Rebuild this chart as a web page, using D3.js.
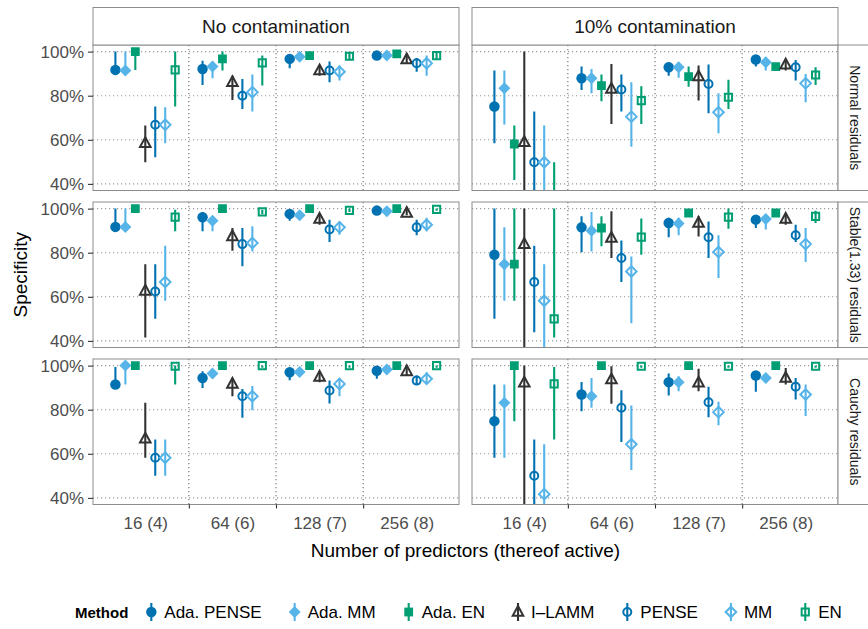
<!DOCTYPE html>
<html>
<head>
<meta charset="utf-8">
<script src="https://cdn.jsdelivr.net/npm/d3@7"></script>
<style>
  body { margin: 0; background: #fff; }
  text { font-family: "Liberation Sans", Arial, sans-serif; }
</style>
</head>
<body>
<svg id="chart" width="868" height="629"></svg>
<script>
const methods = ['Ada. PENSE', 'Ada. MM', 'Ada. EN', 'I\u2013LAMM', 'PENSE', 'MM', 'EN']
const methodColors = ['#0072B2', '#56B4E9', '#009E73', '#333333', '#0072B2', '#56B4E9', '#009E73']
const methodShapes = ['circleFilled', 'diamondFilled', 'squareFilled', 'triangleOpen', 'circleOpen', 'diamondOpen', 'squareOpen']
const predictors = ['16 (4)', '64 (6)', '128 (7)', '256 (8)']
const contaminations = ['No contamination', '10% contamination']
const residuals = ['Normal residuals', 'Stable(1.33) residuals', 'Cauchy residuals']
const yTicks = [0.4, 0.6, 0.8, 1]

// [estimate, lower, upper] per method, one row per predictor setting
const normalClean = [
  [[0.917, 0.91, 1], [0.914, 0.91, 1], [1, 0.917, 1], [0.584, 0.498, 0.665], [0.668, 0.521, 0.751], [0.668, 0.584, 0.748], [0.917, 0.751, 1]],
  [[0.921, 0.849, 0.959], [0.932, 0.879, 0.956], [0.967, 0.914, 1], [0.861, 0.781, 0.891], [0.80, 0.74, 0.876], [0.816, 0.728, 0.896], [0.949, 0.846, 0.982]],
  [[0.967, 0.924, 0.98], [0.977, 0.96, 0.992], [0.982, 0.967, 1], [0.914, 0.891, 0.937], [0.914, 0.861, 0.955], [0.909, 0.869, 0.937], [0.979, 0.962, 0.995]],
  [[0.982, 0.967, 0.995], [0.982, 0.97, 0.99], [0.99, 0.985, 0.995], [0.964, 0.947, 0.99], [0.947, 0.909, 0.971], [0.947, 0.891, 0.982], [0.982, 0.962, 0.995]]
]
const normalDirty = [
  [[0.751, 0.584, 0.914], [0.834, 0.669, 0.914], [0.581, 0.418, 0.665], [0.589, 0.2, 1], [0.498, 0.2, 0.728], [0.498, 0.2, 0.665], [0.3, 0.15, 0.498]],
  [[0.879, 0.826, 0.932], [0.879, 0.811, 0.921], [0.846, 0.775, 0.896], [0.831, 0.672, 0.944], [0.828, 0.728, 0.896], [0.705, 0.569, 0.861], [0.778, 0.672, 0.843]],
  [[0.929, 0.891, 0.952], [0.929, 0.881, 0.952], [0.887, 0.841, 0.932], [0.887, 0.778, 0.937], [0.853, 0.72, 0.941], [0.725, 0.63, 0.811], [0.793, 0.74, 0.872]],
  [[0.964, 0.932, 0.982], [0.952, 0.914, 0.975], [0.932, 0.92, 0.945], [0.941, 0.914, 0.967], [0.929, 0.869, 0.962], [0.856, 0.77, 0.899], [0.894, 0.849, 0.929]]
]
const stableClean = [
  [[0.917, 0.91, 1], [0.917, 0.91, 1], [1, 0.99, 1], [0.627, 0.415, 0.748], [0.624, 0.5, 0.748], [0.667, 0.582, 0.832], [0.961, 0.897, 0.995]],
  [[0.961, 0.897, 0.985], [0.945, 0.897, 0.965], [1, 0.99, 1], [0.874, 0.809, 0.912], [0.839, 0.738, 0.912], [0.844, 0.806, 0.92], [0.985, 0.975, 0.995]],
  [[0.976, 0.945, 0.995], [0.97, 0.955, 0.985], [1, 0.99, 1], [0.953, 0.927, 0.976], [0.905, 0.848, 0.95], [0.915, 0.882, 0.942], [0.992, 0.985, 1]],
  [[0.991, 0.98, 1], [0.988, 0.975, 0.995], [1, 0.99, 1], [0.98, 0.97, 1], [0.915, 0.879, 0.95], [0.927, 0.897, 0.958], [0.997, 0.99, 1]]
]
const stableDirty = [
  [[0.791, 0.5, 1], [0.748, 0.582, 0.915], [0.748, 0.582, 1], [0.839, 0.2, 1], [0.667, 0.439, 0.832], [0.582, 0.2, 0.748], [0.5, 0.415, 1]],
  [[0.915, 0.802, 0.965], [0.9, 0.806, 0.985], [0.912, 0.829, 0.965], [0.867, 0.776, 0.988], [0.776, 0.667, 0.855], [0.715, 0.48, 0.783], [0.871, 0.791, 0.955]],
  [[0.935, 0.87, 0.958], [0.932, 0.879, 0.958], [0.98, 0.97, 0.99], [0.935, 0.874, 0.965], [0.87, 0.776, 0.942], [0.803, 0.685, 0.879], [0.961, 0.909, 1]],
  [[0.95, 0.912, 0.97], [0.953, 0.905, 0.976], [0.98, 0.97, 0.99], [0.953, 0.927, 0.976], [0.879, 0.848, 0.927], [0.839, 0.758, 0.912], [0.965, 0.935, 0.99]]
]
const cauchyClean = [
  [[0.914, 0.9, 0.994], [1, 0.914, 1], [1, 0.99, 1], [0.668, 0.582, 0.831], [0.582, 0.5, 0.665], [0.582, 0.5, 0.665], [0.997, 0.914, 1]],
  [[0.944, 0.899, 0.974], [0.964, 0.95, 0.98], [1, 0.99, 1], [0.917, 0.861, 0.944], [0.861, 0.763, 0.894], [0.861, 0.798, 0.907], [1, 0.99, 1]],
  [[0.97, 0.934, 0.99], [0.971, 0.96, 0.985], [1, 0.99, 1], [0.949, 0.925, 0.974], [0.887, 0.828, 0.932], [0.917, 0.861, 0.944], [1, 0.99, 1]],
  [[0.977, 0.94, 0.994], [0.982, 0.97, 0.99], [1, 0.99, 1], [0.974, 0.955, 0.997], [0.932, 0.914, 0.955], [0.94, 0.919, 0.97], [1, 0.99, 1]]
]
const cauchyDirty = [
  [[0.748, 0.582, 0.914], [0.831, 0.582, 0.914], [1, 0.748, 1], [0.922, 0.2, 1], [0.5, 0.2, 0.665], [0.417, 0.2, 0.643], [0.917, 0.665, 0.994]],
  [[0.869, 0.793, 0.926], [0.861, 0.809, 0.944], [1, 0.99, 1], [0.937, 0.827, 0.997], [0.809, 0.653, 0.888], [0.643, 0.527, 0.819], [0.997, 0.99, 1]],
  [[0.925, 0.864, 0.964], [0.925, 0.884, 0.952], [1, 0.99, 1], [0.922, 0.884, 0.986], [0.834, 0.766, 0.904], [0.789, 0.729, 0.836], [0.997, 0.99, 1]],
  [[0.955, 0.881, 0.974], [0.944, 0.925, 0.96], [1, 0.99, 1], [0.944, 0.914, 0.989], [0.904, 0.846, 0.944], [0.869, 0.771, 0.914], [0.997, 0.99, 1]]
]

const panelData = [
  [normalClean, normalDirty],
  [stableClean, stableDirty],
  [cauchyClean, cauchyDirty]
]

const svg = d3.select('#chart')
const panelW = 366
const panelH = 145.5
const colLeft = [93, 472]
const rowTop = [45, 202, 359]
const dodge = 0.8

const gridColor = '#9a9a9a'
const borderColor = '#8c8c8c'

// point shapes, roughly like ggplot's 16/18/15/2/1/5/0
const shapePath = (shape) => {
  switch (shape) {
    case 'circleFilled': return d3.symbol(d3.symbolCircle, 86)()
    case 'diamondFilled': return 'M0,-6L6,0L0,6L-6,0Z'
    case 'squareFilled': return 'M-4.4,-4.4h8.8v8.8h-8.8Z'
    case 'triangleOpen': return 'M0,-6L5.3,3.8L-5.3,3.8Z'
    case 'circleOpen': return d3.symbol(d3.symbolCircle, 50)()
    case 'diamondOpen': return 'M0,-5.3L5.3,0L0,5.3L-5.3,0Z'
    case 'squareOpen': return 'M-3.6,-3.6h7.2v7.2h-7.2Z'
  }
}
const isOpen = shape => shape.endsWith('Open')

const drawPoint = (g, m) => {
  const shape = methodShapes[m]
  g.append('path')
    .attr('d', shapePath(shape))
    .attr('fill', isOpen(shape) ? 'none' : methodColors[m])
    .attr('stroke', isOpen(shape) ? methodColors[m] : 'none')
    .attr('stroke-width', 2)
}

panelData.forEach((row, r) => {
  row.forEach((cells, c) => {
    const left = colLeft[c]
    const top = rowTop[r]
    const x = d3.scaleLinear().domain([0.4, 4.6]).range([left, left + panelW])
    const y = d3.scaleLinear().domain([0.37, 1.03]).range([top + panelH, top])

    const clipId = `clip-${r}-${c}`
    svg.append('clipPath').attr('id', clipId)
      .append('rect')
      .attr('x', left).attr('y', top)
      .attr('width', panelW).attr('height', panelH)

    const panel = svg.append('g')

    // dotted grid
    panel.selectAll('.hgrid').data(yTicks).enter()
      .append('line')
      .attr('x1', left).attr('x2', left + panelW)
      .attr('y1', d => y(d)).attr('y2', d => y(d))
      .attr('stroke', gridColor)
      .attr('stroke-width', 1.1)
      .attr('stroke-dasharray', '1.2,2.8')
    panel.selectAll('.vsep').data([1.5, 2.5, 3.5]).enter()
      .append('line')
      .attr('x1', d => x(d)).attr('x2', d => x(d))
      .attr('y1', top).attr('y2', top + panelH)
      .attr('stroke', '#6e6e6e')
      .attr('stroke-width', 1.1)
      .attr('stroke-dasharray', '1.2,2.8')

    // point ranges
    const marks = panel.append('g').attr('clip-path', `url(#${clipId})`)
    cells.forEach((group, i) => {
      group.forEach((v, m) => {
        const cx = x(i + 1 + (m - 3) * dodge / methods.length)
        marks.append('line')
          .attr('x1', cx).attr('x2', cx)
          .attr('y1', y(v[1])).attr('y2', y(v[2]))
          .attr('stroke', methodColors[m])
          .attr('stroke-width', 2.1)
        const pg = marks.append('g').attr('transform', `translate(${cx},${y(v[0])})`)
        drawPoint(pg, m)
      })
    })

    panel.append('rect')
      .attr('x', left).attr('y', top)
      .attr('width', panelW).attr('height', panelH)
      .attr('fill', 'none')
      .attr('stroke', borderColor)
      .attr('stroke-width', 1)

    // axes
    if (c === 0) {
      const ay = svg.append('g')
        .attr('transform', `translate(${left},0)`)
        .call(d3.axisLeft(y).tickValues(yTicks).tickFormat(d3.format('.0%')).tickSize(5).tickPadding(4))
      ay.select('.domain').remove()
      ay.selectAll('line').attr('stroke', '#333').attr('stroke-width', 1.1)
      ay.selectAll('text').attr('fill', '#4d4d4d').style('font-size', '17px')
        .style('font-family', '"Liberation Sans", Arial, sans-serif')
    }
    if (r === panelData.length - 1) {
      const ax = svg.append('g')
        .attr('transform', `translate(0,${top + panelH})`)
        .call(d3.axisBottom(x).tickValues([1.5, 2.5, 3.5]).tickFormat('').tickSize(4))
      ax.select('.domain').remove()
      ax.selectAll('line').attr('stroke', '#333').attr('stroke-width', 1.1)
      const axl = svg.append('g')
        .attr('transform', `translate(0,${top + panelH})`)
        .call(d3.axisBottom(x).tickValues([1, 2, 3, 4]).tickFormat((d, i) => predictors[i]).tickSize(0).tickPadding(12))
      axl.select('.domain').remove()
      axl.selectAll('text').attr('fill', '#4d4d4d').style('font-size', '17px')
        .style('font-family', '"Liberation Sans", Arial, sans-serif')
    }
  })
})

// top strips
contaminations.forEach((label, c) => {
  svg.append('rect')
    .attr('x', colLeft[c]).attr('y', 7.5)
    .attr('width', panelW).attr('height', rowTop[0] - 7.5)
    .attr('fill', '#fff').attr('stroke', borderColor)
  svg.append('text')
    .attr('x', colLeft[c] + panelW / 2).attr('y', 33)
    .attr('text-anchor', 'middle')
    .attr('fill', '#1a1a1a')
    .style('font-size', '19px')
    .text(label)
})

// right strips
residuals.forEach((label, r) => {
  const sx = colLeft[1] + panelW
  svg.append('rect')
    .attr('x', sx).attr('y', rowTop[r])
    .attr('width', 40).attr('height', panelH)
    .attr('fill', '#fff').attr('stroke', borderColor)
  svg.append('text')
    .attr('transform', `translate(${sx + 12},${rowTop[r] + panelH / 2}) rotate(90)`)
    .attr('text-anchor', 'middle')
    .attr('fill', '#1a1a1a')
    .style('font-size', '14px')
    .text(label)
})

// axis titles
svg.append('text')
  .attr('x', (colLeft[0] + colLeft[1] + panelW) / 2).attr('y', 557)
  .attr('text-anchor', 'middle')
  .style('font-size', '19px')
  .text('Number of predictors (thereof active)')
svg.append('text')
  .attr('transform', `translate(27,${(rowTop[0] + rowTop[2] + panelH) / 2}) rotate(-90)`)
  .attr('text-anchor', 'middle')
  .style('font-size', '19px')
  .text('Specificity')

// legend
const legend = svg.append('g').attr('transform', 'translate(75,612)')
const title = legend.append('text')
  .attr('x', 0).attr('y', 5.5)
  .style('font-size', '15px')
  .style('font-weight', 'bold')
  .text('Method')
let lx = title.node().getComputedTextLength() + 23
methods.forEach((name, m) => {
  const key = legend.append('g').attr('transform', `translate(${lx},0)`)
  key.append('line')
    .attr('x1', 0).attr('x2', 0).attr('y1', -9).attr('y2', 9)
    .attr('stroke', methodColors[m]).attr('stroke-width', 2.1)
  drawPoint(key, m)
  const t = legend.append('text')
    .attr('x', lx + 13).attr('y', 6)
    .style('font-size', '17px')
    .text(name)
  lx += 13 + t.node().getComputedTextLength() + 33
})
</script>
</body>
</html>
